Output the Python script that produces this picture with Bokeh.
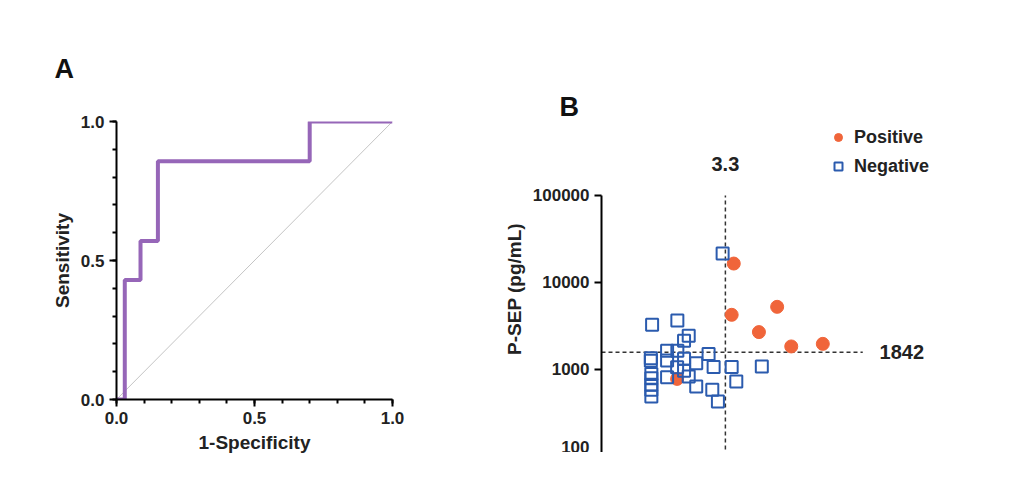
from bokeh.plotting import figure
from bokeh.layouts import row
from bokeh.models import Label, Legend, LegendItem, FixedTicker, Range1d, Title
from bokeh.embed import file_html
from bokeh.resources import INLINE

# ROC curve (panel A)
roc_fpr = [0.0, 0.03, 0.03, 0.087, 0.087, 0.15, 0.15, 0.70, 0.70, 1.0]
roc_tpr = [0.0, 0.0, 0.43, 0.43, 0.57, 0.57, 0.857, 0.857, 1.0, 1.0]

# scatter (panel B)
pos_wbc = [3.4, 3.1, 23, 10.3, 42.8, 172, 0.28]
pos_sep = [16500, 4250, 5250, 2690, 1840, 1970, 780]
neg_wbc = [2.08, 0.093, 0.283, 0.467, 0.38, 0.18, 0.283, 1.12, 0.088, 0.088, 0.18, 0.38,
           0.65, 1.4, 3.1, 11.7, 0.28, 0.09, 0.09, 0.09, 0.09, 0.09, 0.18, 0.467, 0.38,
           0.65, 1.32, 3.8, 1.69]
neg_sep = [21500, 3260, 3660, 2440, 2140, 1640, 1640, 1510, 1350, 1260, 1270, 1330,
           1180, 1065, 1065, 1080, 1060, 885, 795, 666, 584, 489, 816, 830, 965,
           638, 584, 728, 429]
wbc_cut = 2.35
sep_cut = 1582
x_ticks = [0.01, 0.1, 1, 10, 100, 1000]
y_ticks = [100, 1000, 10000, 100000]

FONT = "Liberation Sans"


def style(p):
    for ax in (p.xaxis, p.yaxis):
        ax.axis_line_width = 2
        ax.major_tick_line_width = 2
        ax.minor_tick_line_width = 2
        ax.major_tick_out = 7
        ax.major_tick_in = 0
        ax.minor_tick_out = 4
        ax.minor_tick_in = 0
        ax.major_label_text_font = FONT
        ax.major_label_text_font_style = "bold"
        ax.major_label_text_font_size = "17px"
        ax.major_label_text_color = "#222222"
        ax.axis_label_text_font = FONT
        ax.axis_label_text_font_style = "bold"
        ax.axis_label_text_font_size = "19px"
        ax.axis_label_text_color = "#222222"
    p.grid.visible = False
    p.outline_line_color = None


def panel_title(text, offset, standoff):
    return Title(text=text, align="left", offset=offset, standoff=standoff,
                 text_font=FONT, text_font_style="bold", text_font_size="27px",
                 text_color="#111111")


# Panel A
pa = figure(frame_width=276, frame_height=278, output_backend="svg", toolbar_location=None,
            x_range=Range1d(0, 1), y_range=Range1d(0, 1),
            min_border_left=116, min_border_right=108, min_border_top=121, min_border_bottom=61)
pa.line([0, 1], [0, 1], line_color="#aaaaaa", line_width=0.7)
pa.line(roc_fpr, roc_tpr, line_color="#9666B8", line_width=4)
pa.xaxis.ticker = FixedTicker(ticks=[0, 0.5, 1], minor_ticks=[i / 10 for i in range(11)])
pa.yaxis.ticker = FixedTicker(ticks=[0, 0.5, 1], minor_ticks=[i / 10 for i in range(11)])
pa.xaxis.major_label_overrides = {0: "0.0", 0.5: "0.5", 1: "1.0"}
pa.yaxis.major_label_overrides = {0: "0.0", 0.5: "0.5", 1: "1.0"}
pa.xaxis.axis_label = "1-Specificity"
pa.yaxis.axis_label = "Sensitivity"
style(pa)
pa.add_layout(panel_title("A", -62, 76), "above")

# Panel B: ranges extend past the axes so that the labels and legend sit in the frame
pb = figure(frame_width=418, frame_height=335, output_backend="svg", toolbar_location=None,
            x_axis_type="log", y_axis_type="log",
            x_range=Range1d(0.01, 1e6), y_range=Range1d(100, 708000),
            min_border_left=74, min_border_right=8, min_border_top=42, min_border_bottom=75)
pb.line([wbc_cut, wbc_cut], [100, 100000], line_dash="4 3", line_width=1.5, line_color="#333333")
pb.line([0.01, 1000], [sep_cut, sep_cut], line_dash="4 3", line_width=1.5, line_color="#333333")
rp = pb.scatter(pos_wbc, pos_sep, marker="circle", size=13, color="#F0653A")
rn = pb.scatter(neg_wbc, neg_sep, marker="square", size=12, fill_color=None,
                line_color="#2B5BAE", line_width=2)
pb.xaxis.ticker = FixedTicker(ticks=x_ticks, minor_ticks=[])
pb.yaxis.ticker = FixedTicker(ticks=y_ticks, minor_ticks=[])
pb.xaxis.bounds = (0.01, 1000)
pb.yaxis.bounds = (100, 100000)
pb.xaxis.major_label_overrides = {t: str(t) for t in x_ticks}
pb.yaxis.major_label_overrides = {t: str(t) for t in y_ticks}
pb.xaxis.axis_label = "Ascitic WBC (×10⁹/L)"
pb.yaxis.axis_label = "P-SEP (pg/mL)"
style(pb)
pb.add_layout(Label(x=wbc_cut, y=227000, text="3.3", text_font=FONT, text_font_style="bold",
                    text_font_size="20px", text_align="center", text_baseline="middle",
                    text_color="#222222"))
pb.add_layout(Label(x=2100, y=sep_cut, text="1842", text_font=FONT, text_font_style="bold",
                    text_font_size="20px", text_align="left", text_baseline="middle",
                    text_color="#222222"))
pb.add_layout(panel_title("B", -42, 0), "above")
leg = Legend(items=[LegendItem(label="Positive", renderers=[rp]),
                    LegendItem(label="Negative", renderers=[rn])],
             location=(226, 200), border_line_color=None, background_fill_alpha=0,
             label_text_font=FONT, label_text_font_style="bold", label_text_font_size="18px",
             label_text_color="#222222", spacing=8, glyph_width=22)
pb.add_layout(leg)

p = row(pa, pb)
open("out.html", "w").write(file_html(p, INLINE))
